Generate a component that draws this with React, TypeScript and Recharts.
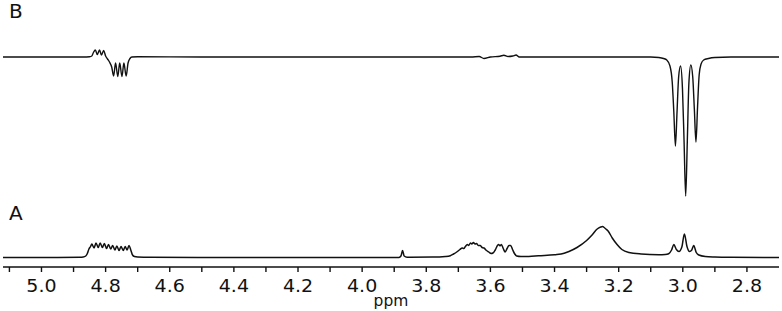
import React from "react";
import { LineChart, Line, XAxis, YAxis } from "recharts";

// chemical shift ticks (ppm), every 0.1, labelled every 0.2
const PPM_TICKS = [5.1, 5.0, 4.9, 4.8, 4.7, 4.6, 4.5, 4.4, 4.3, 4.2, 4.1, 4.0, 3.9, 3.8, 3.7, 3.6, 3.5, 3.4, 3.3, 3.2, 3.1, 3.0, 2.9, 2.8];
const LABELLED = [5.0, 4.8, 4.6, 4.4, 4.2, 4.0, 3.8, 3.6, 3.4, 3.2, 3.0, 2.8];

// spectrum A: [ppm, intensity] (left to right)
const spectrumA: [number, number][] = [
    [5.12, 0], [4.95, 0.1], [4.88, 0.3], [4.87, 0.5], [4.862, 1.5], [4.857, 4], [4.852, 8.5], [4.847, 11],
    [4.843, 13.5], [4.836, 9.5], [4.83, 14.5], [4.823, 10], [4.817, 14.5], [4.81, 10], [4.804, 14], [4.797, 9],
    [4.791, 13], [4.784, 8.5], [4.778, 12], [4.771, 7.5], [4.765, 11.5], [4.758, 7], [4.752, 11], [4.745, 7],
    [4.739, 11], [4.733, 7.5], [4.727, 12], [4.721, 7], [4.716, 2.5], [4.71, 1], [4.7, 0.5], [4.66, 0.2],
    [4.4, 0], [3.95, 0], [3.885, 0.1], [3.879, 1.5], [3.874, 7], [3.869, 1.5], [3.86, 0.3],
    [3.78, 0.4], [3.74, 1], [3.725, 1.8], [3.715, 3.5], [3.705, 5.5], [3.695, 8], [3.688, 9.5], [3.683, 9],
    [3.678, 11], [3.672, 13], [3.668, 12], [3.662, 14.5], [3.658, 13.5], [3.653, 15], [3.648, 13.5],
    [3.643, 14], [3.638, 12], [3.632, 12], [3.626, 10], [3.62, 9.5], [3.612, 7], [3.605, 5.5], [3.598, 4],
    [3.592, 4.5], [3.585, 7.5], [3.578, 12], [3.574, 13], [3.57, 11.5], [3.566, 13], [3.56, 9],
    [3.554, 5.5], [3.548, 9], [3.542, 12], [3.537, 12], [3.531, 8], [3.525, 4], [3.518, 1.5],
    [3.505, 1], [3.48, 1.1], [3.45, 1.8], [3.4, 2.8], [3.37, 4.2], [3.355, 6], [3.33, 10], [3.3, 17],
    [3.283, 22.5], [3.267, 28.5], [3.256, 30.5], [3.25, 31], [3.245, 30], [3.24, 28.5], [3.233, 26.5],
    [3.22, 19.5], [3.205, 13], [3.19, 8], [3.168, 5], [3.13, 3.5], [3.075, 2.8], [3.055, 3],
    [3.044, 3.8], [3.035, 7.5], [3.028, 13], [3.02, 8], [3.012, 6], [3.003, 10.5], [2.995, 23.5], [2.987, 11],
    [2.979, 6], [2.972, 7.5], [2.966, 12], [2.958, 5], [2.95, 2.5], [2.93, 1], [2.9, 0.5], [2.85, 0.2], [2.7, 0],
];

// spectrum B (difference trace): [ppm, intensity]
const spectrumB: [number, number][] = [
    [5.12, 0], [4.95, 0], [4.87, 0], [4.85, 0.3], [4.843, 1], [4.838, 4.5], [4.832, 7], [4.826, 2.5],
    [4.819, 7], [4.813, 2], [4.806, 6.5], [4.8, 1], [4.794, -2], [4.788, -5], [4.781, -10], [4.775, -19],
    [4.769, -6], [4.762, -19.5], [4.756, -6], [4.749, -19.5], [4.743, -6], [4.736, -19], [4.73, -6],
    [4.724, -1.5], [4.718, 0], [4.7, 0.3], [4.5, 0], [3.9, 0], [3.66, 0], [3.635, 0.5], [3.62, -1.5],
    [3.6, 0], [3.57, 0.8], [3.558, 1.8], [3.545, 0.5], [3.53, 1], [3.52, 2], [3.51, 0], [3.3, 0],
    [3.1, 0], [3.075, -0.5], [3.06, -1.5], [3.05, -3], [3.04, -9], [3.033, -25], [3.028, -55],
    [3.023, -89], [3.018, -55], [3.013, -20], [3.007, -9], [3.001, -32], [2.996, -85], [2.991, -139],
    [2.986, -85], [2.981, -26], [2.975, -8], [2.969, -20], [2.964, -52], [2.959, -85], [2.954, -50],
    [2.949, -18], [2.943, -7], [2.935, -3], [2.92, -1.5], [2.9, -0.5], [2.85, 0], [2.7, 0],
];

const dataA = spectrumA.map(([ppm, v]) => ({ ppm, v }));
const dataB = spectrumB.map(([ppm, v]) => ({ ppm, v }));

const FONT = "'DejaVu Sans', Verdana, sans-serif";

// eslint-disable-next-line @typescript-eslint/no-explicit-any
const PpmTick = (props: any) => {
    const { x, y, payload } = props;
    const val = payload.value as number;
    const show = LABELLED.some(l => Math.abs(l - val) < 1e-6);
    if (!show) return <g />;
    return (
        <g transform={`translate(${x},${y})`}>
            <text dy="0.71em" textAnchor="middle" fontSize={17} fontFamily={FONT} fill="#111" transform="scale(1.12,1)">
                {val.toFixed(1)}
            </text>
        </g>
    );
};

export default function App() {
    return (
        <div style={{ position: "absolute", left: 0, top: 0, width: 782, height: 311, background: "#fff" }}>
            <LineChart width={782} height={311} data={dataA} margin={{ top: 0, right: 3, bottom: 0, left: 3 }}>
                <XAxis
                    type="number"
                    dataKey="ppm"
                    domain={[2.7, 5.12]}
                    reversed
                    allowDataOverflow
                    ticks={PPM_TICKS}
                    interval={0}
                    height={44}
                    tickSize={5}
                    tickMargin={8}
                    tick={<PpmTick />}
                    stroke="#111"
                    strokeWidth={1.4}
                    label={{ value: "ppm", position: "insideBottom", offset: 5, fontSize: 15.5, fontFamily: FONT, fill: "#111" }}
                />
                <YAxis yAxisId="a" hide domain={[-9.5, 257.5]} />
                <YAxis yAxisId="b" hide domain={[-210, 57]} />
                <Line yAxisId="a" data={dataA} dataKey="v" type="monotone" stroke="#111" strokeWidth={1.5} dot={false} isAnimationActive={false} />
                <Line yAxisId="b" data={dataB} dataKey="v" type="monotone" stroke="#111" strokeWidth={1.4} dot={false} isAnimationActive={false} />
            </LineChart>
            <svg width={782} height={311} style={{ position: "absolute", left: 0, top: 0, pointerEvents: "none" }}>
                <text x={9} y={17.5} fontSize={20} fontFamily={FONT} fill="#111">B</text>
                <text x={9} y={219.5} fontSize={20} fontFamily={FONT} fill="#111">A</text>
            </svg>
        </div>
    );
}
